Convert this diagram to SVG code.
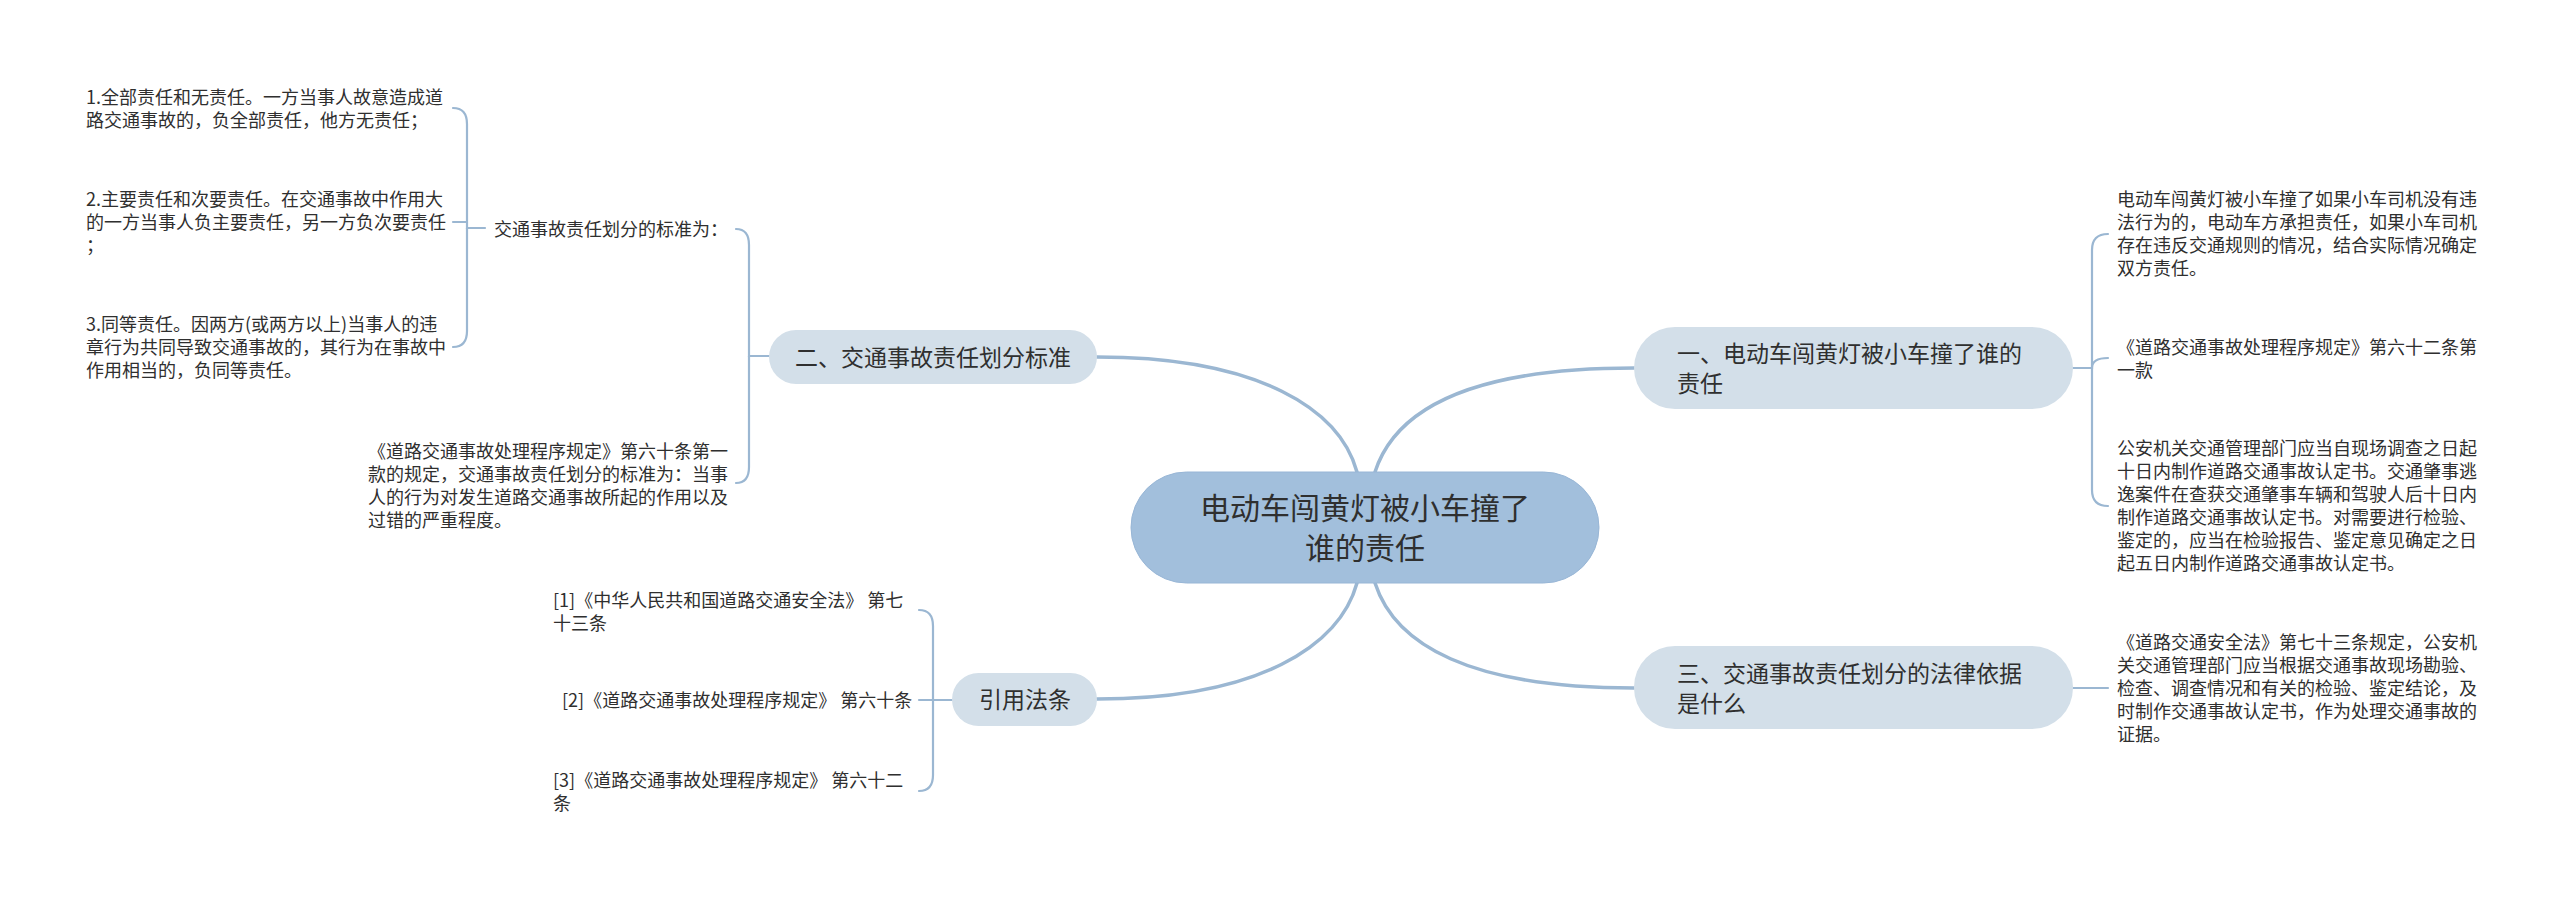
<svg xmlns="http://www.w3.org/2000/svg" width="2560" height="899" viewBox="0 0 2560 899">
<style>
text{font-family:"Noto Sans CJK SC","Noto Sans",sans-serif;fill:#2f2f2f}
.leaf{font-size:18px}
.l1{font-size:23px}
.root{font-size:30px}
.n1{fill:#d3dfe9}
.rootbox{fill:#a2bfdc;stroke:#98b6d6;stroke-width:1}
.main{fill:none;stroke:#9bb7d2;stroke-width:3.5;stroke-linecap:round}
.sub{fill:none;stroke:#9bb7d2;stroke-width:2.2;stroke-linecap:round}
</style>
<rect width="2560" height="899" fill="#ffffff"/>
<g id="connectors">
<path class="main" d="M1357,472 C1340,410 1260,357 1097,357"/>
<path class="main" d="M1375,472 C1395,410 1470,368 1634,368"/>
<path class="main" d="M1357,583 C1340,645 1260,699 1097,699"/>
<path class="main" d="M1375,583 C1395,645 1470,688 1634,688"/>
<path class="sub" d="M769,356 H749 V245 Q749,229 736,229"/>
<path class="sub" d="M749,356 V467 Q749,483 736,483"/>
<path class="sub" d="M485,228 H467 V124 Q467,108 453,108"/>
<path class="sub" d="M467,222 H453"/>
<path class="sub" d="M467,228 V331 Q467,347 453,347"/>
<path class="sub" d="M952,700 H933 V626 Q933,610 919,610"/>
<path class="sub" d="M933,700 H919"/>
<path class="sub" d="M933,700 V775 Q933,791 919,791"/>
<path class="sub" d="M2073,368 H2092 V250 Q2092,234 2108,234"/>
<path class="sub" d="M2092,368 Q2092,358 2108,358"/>
<path class="sub" d="M2092,368 V490 Q2092,506 2108,506"/>
<path class="sub" d="M2073,688 H2108"/>
</g>
<g id="root">
<rect class="rootbox" x="1131" y="472" width="468" height="111" rx="55.5"/>
<text class="root" text-anchor="middle"><tspan x="1365" y="519">电动车闯黄灯被小车撞了</tspan><tspan x="1365" y="559">谁的责任</tspan></text>
</g>
<g id="n-one">
<rect class="n1" x="1634" y="327" width="439" height="82" rx="41"/>
<text class="l1"><tspan x="1677" y="362">一、电动车闯黄灯被小车撞了谁的</tspan><tspan x="1677" y="392">责任</tspan></text>
</g>
<g id="n-two">
<rect class="n1" x="769" y="330" width="328" height="54" rx="27"/>
<text class="l1" x="933" y="366" text-anchor="middle">二、交通事故责任划分标准</text>
</g>
<g id="n-three">
<rect class="n1" x="1634" y="646" width="439" height="83" rx="41"/>
<text class="l1"><tspan x="1677" y="682">三、交通事故责任划分的法律依据</tspan><tspan x="1677" y="712">是什么</tspan></text>
</g>
<g id="n-ref">
<rect class="n1" x="952" y="673" width="145" height="53" rx="26.5"/>
<text class="l1" x="1025" y="708" text-anchor="middle">引用法条</text>
</g>
<g id="leaf-standard">
<text class="leaf" x="494" y="236">交通事故责任划分的标准为：</text>
</g>
<g id="leaf-s1">
<text class="leaf"><tspan x="86" y="104">1.全部责任和无责任。一方当事人故意造成道</tspan><tspan x="86" y="127">路交通事故的，负全部责任，他方无责任；</tspan></text>
</g>
<g id="leaf-s2">
<text class="leaf"><tspan x="86" y="206">2.主要责任和次要责任。在交通事故中作用大</tspan><tspan x="86" y="229">的一方当事人负主要责任，另一方负次要责任</tspan><tspan x="86" y="252">；</tspan></text>
</g>
<g id="leaf-s3">
<text class="leaf"><tspan x="86" y="331">3.同等责任。因两方(或两方以上)当事人的违</tspan><tspan x="86" y="354">章行为共同导致交通事故的，其行为在事故中</tspan><tspan x="86" y="377">作用相当的，负同等责任。</tspan></text>
</g>
<g id="leaf-two-law">
<text class="leaf"><tspan x="368" y="458">《道路交通事故处理程序规定》第六十条第一</tspan><tspan x="368" y="481">款的规定，交通事故责任划分的标准为：当事</tspan><tspan x="368" y="504">人的行为对发生道路交通事故所起的作用以及</tspan><tspan x="368" y="527">过错的严重程度。</tspan></text>
</g>
<g id="leaf-ref1">
<text class="leaf"><tspan x="553" y="607">[1]《中华人民共和国道路交通安全法》 第七</tspan><tspan x="553" y="630">十三条</tspan></text>
</g>
<g id="leaf-ref2">
<text class="leaf" x="562" y="707">[2]《道路交通事故处理程序规定》 第六十条</text>
</g>
<g id="leaf-ref3">
<text class="leaf"><tspan x="553" y="787">[3]《道路交通事故处理程序规定》 第六十二</tspan><tspan x="553" y="810">条</tspan></text>
</g>
<g id="leaf-one-a">
<text class="leaf"><tspan x="2117" y="206">电动车闯黄灯被小车撞了如果小车司机没有违</tspan><tspan x="2117" y="229">法行为的，电动车方承担责任，如果小车司机</tspan><tspan x="2117" y="252">存在违反交通规则的情况，结合实际情况确定</tspan><tspan x="2117" y="275">双方责任。</tspan></text>
</g>
<g id="leaf-one-b">
<text class="leaf"><tspan x="2117" y="354">《道路交通事故处理程序规定》第六十二条第</tspan><tspan x="2117" y="377">一款</tspan></text>
</g>
<g id="leaf-one-c">
<text class="leaf"><tspan x="2117" y="455">公安机关交通管理部门应当自现场调查之日起</tspan><tspan x="2117" y="478">十日内制作道路交通事故认定书。交通肇事逃</tspan><tspan x="2117" y="501">逸案件在查获交通肇事车辆和驾驶人后十日内</tspan><tspan x="2117" y="524">制作道路交通事故认定书。对需要进行检验、</tspan><tspan x="2117" y="547">鉴定的，应当在检验报告、鉴定意见确定之日</tspan><tspan x="2117" y="570">起五日内制作道路交通事故认定书。</tspan></text>
</g>
<g id="leaf-three">
<text class="leaf"><tspan x="2117" y="649">《道路交通安全法》第七十三条规定，公安机</tspan><tspan x="2117" y="672">关交通管理部门应当根据交通事故现场勘验、</tspan><tspan x="2117" y="695">检查、调查情况和有关的检验、鉴定结论，及</tspan><tspan x="2117" y="718">时制作交通事故认定书，作为处理交通事故的</tspan><tspan x="2117" y="741">证据。</tspan></text>
</g>
</svg>
